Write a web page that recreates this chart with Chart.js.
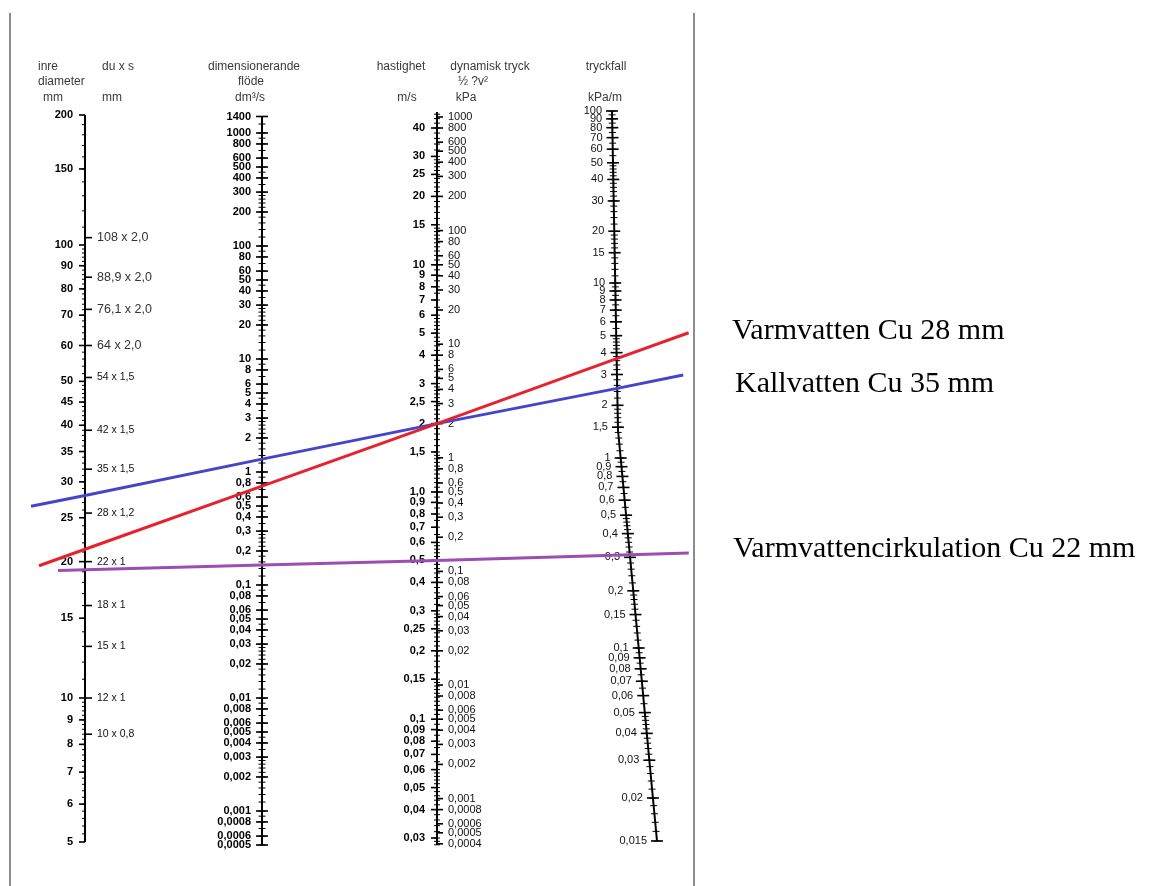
<!DOCTYPE html>
<html lang="sv">
<head>
<meta charset="utf-8">
<title>Nomogram – tryckfall i kopparrör</title>
<script src="https://cdn.jsdelivr.net/npm/chart.js@4.4.1/dist/chart.umd.min.js"></script>
<style>
  html, body { margin: 0; padding: 0; background: #fff; }
  #wrap { width: 1168px; height: 886px; }
</style>
</head>
<body>
<div id="wrap"><canvas id="nomogram" width="1168" height="886"></canvas></div>
<script>
(function () {
    'use strict';

    // --- skalornas etiketter (som de står i nomogrammet) ---
    const diameterLabels = ['200', '150', '100', '90', '80', '70', '60', '50', '45', '40', '35', '30', '25', '20', '15', '10', '9', '8', '7', '6', '5'];
    const pipeLabels = ['108 x 2,0', '88,9 x 2,0', '76,1 x 2,0', '64 x 2,0', '54 x 1,5', '42 x 1,5', '35 x 1,5', '28 x 1,2', '22 x 1', '18 x 1', '15 x 1', '12 x 1', '10 x 0,8'];
    const flowLabels = ['1400', '1000', '800', '600', '500', '400', '300', '200', '100', '80', '60', '50', '40', '30', '20', '10', '8', '6', '5', '4', '3', '2', '1', '0,8', '0,6', '0,5', '0,4', '0,3', '0,2', '0,1', '0,08', '0,06', '0,05', '0,04', '0,03', '0,02', '0,01', '0,008', '0,006', '0,005', '0,004', '0,003', '0,002', '0,001', '0,0008', '0,0006', '0,0005'];
    const velocityLabels = ['40', '30', '25', '20', '15', '10', '9', '8', '7', '6', '5', '4', '3', '2,5', '2', '1,5', '1,0', '0,9', '0,8', '0,7', '0,6', '0,5', '0,4', '0,3', '0,25', '0,2', '0,15', '0,1', '0,09', '0,08', '0,07', '0,06', '0,05', '0,04', '0,03'];
    const pressureLabels = ['1000', '800', '600', '500', '400', '300', '200', '100', '80', '60', '50', '40', '30', '20', '10', '8', '6', '5', '4', '3', '2', '1', '0,8', '0,6', '0,5', '0,4', '0,3', '0,2', '0,1', '0,08', '0,06', '0,05', '0,04', '0,03', '0,02', '0,01', '0,008', '0,006', '0,005', '0,004', '0,003', '0,002', '0,001', '0,0008', '0,0006', '0,0005', '0,0004'];
    const dropLabels = ['100', '90', '80', '70', '60', '50', '40', '30', '20', '15', '10', '9', '8', '7', '6', '5', '4', '3', '2', '1,5', '1', '0,9', '0,8', '0,7', '0,6', '0,5', '0,4', '0,3', '0,2', '0,15', '0,1', '0,09', '0,08', '0,07', '0,06', '0,05', '0,04', '0,03', '0,02', '0,015'];

    // --- inritade linjer: avläsning på varje skala ---
    const lineNames = ['Varmvatten Cu 28 mm', 'Kallvatten Cu 35 mm', 'Varmvattencirkulation Cu 22 mm'];
    const lineDiameter = [21.3, 28, 19.2];   // mm
    const lineFlow = [0.75, 1.3, 0.15];      // dm³/s
    const lineVelocity = [2.0, 2.0, 0.5];    // m/s
    const lineDrop = [3.7, 2.5, 0.31];       // kPa/m

    const RHO = 1000; // kg/m³, för dynamiskt tryck ½ρv²

    // --- layout ---
    const W = 1168, H = 886;
    const AX = { d: 85, q: 262, v: 437 };
    const dropAxisPath = [[111, 612], [430, 618], [841, 657]]; // [y, x]
    // kalibrering av skalorna: [värde, y]
    const diaCal = [[200, 115], [100, 245], [10, 698], [5, 842]];
    const flowCal = [[1000, 133], [0.001, 811]];
    const velCal = [[40, 128], [0.03, 838]];
    const dropCal = [[100, 111], [10, 283], [1, 458], [0.1, 648], [0.02, 798], [0.015, 841]];

    const lineColors = ['#e6222c', '#4444cc', '#9b4db3'];
    const lineReach = [[46, 72], [54, 66], [27, 59]];
    const legendPos = [[732, 339], [735, 392], [733, 557]];

    const titles = [
        { t: 'inre', x: 38, y: 67, a: 'left' },
        { t: 'diameter', x: 38, y: 82, a: 'left' },
        { t: 'mm', x: 43, y: 98, a: 'left' },
        { t: 'du x s', x: 102, y: 67, a: 'left' },
        { t: 'mm', x: 102, y: 98, a: 'left' },
        { t: 'dimensionerande', x: 254, y: 67, a: 'center' },
        { t: 'flöde', x: 251, y: 82, a: 'center' },
        { t: 'dm³/s', x: 250, y: 98, a: 'center' },
        { t: 'hastighet', x: 401, y: 67, a: 'center' },
        { t: 'm/s', x: 407, y: 98, a: 'center' },
        { t: 'dynamisk tryck', x: 490, y: 67, a: 'center' },
        { t: '½ ?v²', x: 473, y: 82, a: 'center' },
        { t: 'kPa', x: 466, y: 98, a: 'center' },
        { t: 'tryckfall', x: 606, y: 67, a: 'center' },
        { t: 'kPa/m', x: 605, y: 98, a: 'center' }
    ];

    const num = s => parseFloat(String(s).replace(',', '.'));

    function mapLog(cal, v) {
        const lv = Math.log10(v);
        let i = 0;
        while (i < cal.length - 2 && lv < Math.log10(cal[i + 1][0])) i++;
        const l0 = Math.log10(cal[i][0]), l1 = Math.log10(cal[i + 1][0]);
        return cal[i][1] + (lv - l0) / (l1 - l0) * (cal[i + 1][1] - cal[i][1]);
    }

    function dropX(y) {
        const p = dropAxisPath;
        let i = 0;
        while (i < p.length - 2 && y > p[i + 1][0]) i++;
        return p[i][1] + (y - p[i][0]) / (p[i + 1][0] - p[i][0]) * (p[i + 1][1] - p[i][1]);
    }

    const velY = v => mapLog(velCal, v);
    const pressY = p => velY(Math.sqrt(2000 * p / RHO));

    // småstreck per dekad: [från mantissa, till, steg]
    function logMinor(lo, hi, steps) {
        const out = [];
        for (let e = Math.floor(Math.log10(lo)); e <= Math.ceil(Math.log10(hi)); e++) {
            steps.forEach(([m0, m1, st]) => {
                const n = Math.round((m1 - m0) / st);
                for (let k = 0; k < n; k++) {
                    const v = (m0 + k * st) * Math.pow(10, e);
                    if (v >= lo * 0.999 && v <= hi * 1.001) out.push(v);
                }
            });
        }
        return out;
    }

    function linMinor(ranges) {
        const out = [];
        ranges.forEach(([a, b, st]) => {
            const n = Math.round((b - a) / st);
            for (let k = 0; k <= n; k++) out.push(a + k * st);
        });
        return out;
    }

    function lineData(i) {
        const pts = [
            { x: AX.d, y: mapLog(diaCal, lineDiameter[i]) },
            { x: AX.q, y: mapLog(flowCal, lineFlow[i]) },
            { x: AX.v, y: velY(lineVelocity[i]) }
        ];
        const yR = mapLog(dropCal, lineDrop[i]);
        pts.push({ x: dropX(yR), y: yR });
        const a = pts[0], b = pts[pts.length - 1];
        const k = (b.y - a.y) / (b.x - a.x);
        const x0 = a.x - lineReach[i][0], x1 = b.x + lineReach[i][1];
        return [{ x: x0, y: a.y + k * (x0 - a.x) }].concat(pts, [{ x: x1, y: a.y + k * (x1 - a.x) }]);
    }

    const FONT_B = 'bold 11px "Liberation Sans", Arial, sans-serif';
    const FONT_N = '11px "Liberation Sans", Arial, sans-serif';

    const nomogramPlugin = {
        id: 'nomogram',
        beforeDatasetsDraw(chart) {
            const { ctx } = chart;
            const sx = chart.scales.x, sy = chart.scales.y;
            const px = u => sx.getPixelForValue(u);
            const py = u => sy.getPixelForValue(u);

            function seg(x0, y0, x1, y1) {
                ctx.beginPath();
                ctx.moveTo(px(x0), py(y0));
                ctx.lineTo(px(x1), py(y1));
                ctx.stroke();
            }
            function tick(x, y, l, r, w) {
                ctx.lineWidth = w || 1.3;
                seg(x - l, y, x + r, y);
            }
            function label(text, x, y, align, font, color) {
                ctx.font = font;
                ctx.fillStyle = color || '#000';
                ctx.textAlign = align;
                ctx.textBaseline = 'middle';
                ctx.fillText(text, px(x), py(y));
            }

            ctx.save();
            ctx.lineCap = 'butt';

            // ram
            ctx.strokeStyle = '#8c8c8c';
            ctx.lineWidth = 2;
            seg(10, 13, 10, H);
            seg(694, 13, 694, H);

            // rubriker
            titles.forEach(t => label(t.t, t.x, t.y, t.a, '12px "Liberation Sans", Arial, sans-serif', '#3a3a3a'));

            ctx.strokeStyle = '#000';

            // inre diameter
            const dTop = mapLog(diaCal, 200), dBot = mapLog(diaCal, 5);
            ctx.lineWidth = 2;
            seg(AX.d, dTop, AX.d, dBot);
            linMinor([[110, 190, 10], [52, 98, 2], [21, 49, 1], [11, 19, 1], [5.2, 9.8, 0.2]])
                .forEach(v => tick(AX.d, mapLog(diaCal, v), 3, 0, 1));
            diameterLabels.forEach(s => {
                const y = mapLog(diaCal, num(s));
                tick(AX.d, y, 6, 0, 1.6);
                label(s, AX.d - 12, y, 'right', FONT_B);
            });
            pipeLabels.forEach((s, i) => {
                const parts = s.split(' x ');
                const inner = num(parts[0]) - 2 * num(parts[1]);
                const y = mapLog(diaCal, inner);
                tick(AX.d, y, 0, 7, 1.6);
                label(s, AX.d + 12, y, 'left',
                    i < 4 ? '12.5px "Liberation Sans", Arial, sans-serif' : '10.5px "Liberation Sans", Arial, sans-serif',
                    i < 4 ? '#333' : '#111');
            });

            // flöde
            ctx.lineWidth = 2;
            seg(AX.q, mapLog(flowCal, 1400), AX.q, mapLog(flowCal, 0.0005));
            logMinor(0.0005, 1400, [[1, 2, 0.2], [2, 3, 0.2], [3, 5, 0.5], [5, 10, 1]])
                .forEach(v => tick(AX.q, mapLog(flowCal, v), 3.5, 3.5, 1));
            flowLabels.forEach(s => {
                const y = mapLog(flowCal, num(s));
                tick(AX.q, y, 6, 6, 1.6);
                label(s, AX.q - 11, y, 'right', FONT_B);
            });

            // hastighet / dynamiskt tryck
            ctx.lineWidth = 2;
            seg(AX.v, velY(47), AX.v, velY(0.028));
            logMinor(0.028, 47, [[1, 1.5, 0.05], [1.5, 3, 0.1], [3, 6, 0.2], [6, 10, 0.5]])
                .forEach(v => tick(AX.v, velY(v), 3, 3, 1));
            velocityLabels.forEach(s => {
                const y = velY(num(s));
                tick(AX.v, y, 6, 0, 1.6);
                label(s, AX.v - 12, y, 'right', FONT_B);
            });
            pressureLabels.forEach(s => {
                const y = pressY(num(s));
                tick(AX.v, y, 0, 6, 1.6);
                label(s, AX.v + 11, y, 'left', FONT_N, '#111');
            });

            // tryckfall (sned nedre del)
            ctx.lineWidth = 2;
            ctx.beginPath();
            dropAxisPath.forEach(([y, x], i) => {
                if (i === 0) ctx.moveTo(px(x), py(y));
                else ctx.lineTo(px(x), py(y));
            });
            ctx.stroke();
            logMinor(0.015, 100, [[1, 2, 0.1], [2, 5, 0.2], [5, 10, 0.5]])
                .forEach(v => {
                    const y = mapLog(dropCal, v);
                    tick(dropX(y), y, 3.5, 3.5, 1);
                });
            dropLabels.forEach(s => {
                const y = mapLog(dropCal, num(s));
                const x = dropX(y);
                tick(x, y, 6, 6, 1.6);
                label(s, x - 10, y, 'right', FONT_N, '#111');
            });

            ctx.restore();
        },
        afterDatasetsDraw(chart) {
            const { ctx } = chart;
            const sx = chart.scales.x, sy = chart.scales.y;
            ctx.save();
            ctx.font = '30px "Liberation Serif", "Times New Roman", serif';
            ctx.fillStyle = '#000';
            ctx.textAlign = 'left';
            ctx.textBaseline = 'alphabetic';
            chart.data.datasets.forEach((ds, i) => {
                ctx.fillText(ds.label, sx.getPixelForValue(legendPos[i][0]), sy.getPixelForValue(legendPos[i][1]));
            });
            ctx.restore();
        }
    };

    new Chart(document.getElementById('nomogram'), {
        type: 'line',
        data: {
            datasets: lineNames.map((name, i) => ({
                label: name,
                data: lineData(i),
                borderColor: lineColors[i],
                borderWidth: 3,
                pointRadius: 0,
                tension: 0,
                fill: false
            }))
        },
        options: {
            responsive: false,
            animation: false,
            devicePixelRatio: 1,
            layout: { padding: 0 },
            plugins: { legend: { display: false }, tooltip: { enabled: false } },
            scales: {
                x: { type: 'linear', min: 0, max: W, display: false },
                y: { type: 'linear', min: 0, max: H, reverse: true, display: false }
            }
        },
        plugins: [nomogramPlugin]
    });
})();
</script>
</body>
</html>
